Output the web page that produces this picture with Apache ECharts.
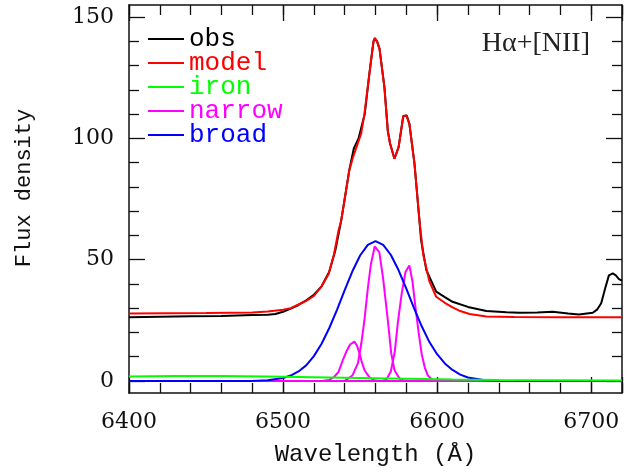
<!DOCTYPE html>
<html>
<head>
<meta charset="utf-8">
<script src="https://cdn.jsdelivr.net/npm/echarts@6/dist/echarts.min.js"></script>
<style>html,body{margin:0;padding:0;background:#fff}#c{width:640px;height:473px}</style>
</head>
<body>
<div id="c"></div>
<script>
// ---- data ----
const xTickStep = 100;
const xMinorStep = 20;
const xLabels = [6400, 6500, 6600, 6700];
const yTicks = [0, 50, 100, 150];
const yMinorTicks = [10, 20, 30, 40, 60, 70, 80, 90, 110, 120, 130, 140];

const obsWave = [6400, 6420, 6440, 6460, 6480, 6490, 6495, 6500, 6505, 6510, 6515, 6520, 6525, 6530, 6534, 6537.7, 6540, 6543, 6546, 6549, 6551, 6553, 6556, 6558.7, 6559.5, 6561, 6562.6, 6565.8, 6568, 6569.5, 6572.3, 6575, 6578, 6580.3, 6582, 6585.3, 6588.5, 6589.6, 6593, 6599.4, 6605, 6610, 6620, 6632, 6645, 6653.5, 6665, 6675, 6685, 6692, 6701, 6704, 6706.5, 6709, 6711.5, 6714, 6716, 6718, 6720];
const obsFlux = [26.2, 26.4, 26.6, 26.8, 27.2, 27.3, 27.6, 28.5, 29.8, 31.3, 33.2, 35.5, 39, 45, 54, 66, 75, 87, 96, 100, 105, 110, 126.5, 140, 141, 140, 137, 121, 103, 97.8, 91.6, 96.4, 109.2, 109.4, 106, 89.6, 66.3, 58, 45.7, 36.8, 34.5, 32.6, 30.5, 28.8, 28.3, 28.1, 28.2, 28.5, 27.8, 27.4, 28.1, 29.5, 32, 38, 43.5, 44.3, 43.5, 42, 41.3];

const modelWave = [6400, 6450, 6480, 6490, 6500, 6505, 6510, 6515, 6520, 6525, 6529.5, 6533, 6536, 6537.7, 6540, 6543, 6545.3, 6548, 6550.7, 6552.8, 6556, 6558.7, 6559.5, 6561, 6562.6, 6565.8, 6568, 6569.5, 6572.3, 6575, 6578, 6580, 6582, 6585.3, 6588.5, 6591, 6595, 6599.4, 6605, 6610, 6615, 6621, 6632, 6650, 6680, 6720];
const modelFlux = [27.8, 28, 28.2, 28.6, 29.3, 30, 31.5, 33, 35, 39, 44, 52, 62, 66, 75, 86.8, 92, 97, 102, 110, 126.5, 140, 141.5, 140, 136.9, 121, 103, 97.8, 91.6, 96.4, 109, 109.5, 106, 89.6, 66.3, 52, 41, 34.7, 32.2, 30.3, 28.8, 27.6, 26.5, 26.3, 26.2, 26.2];

const ironWave = [6400, 6430, 6460, 6490, 6520, 6550, 6580, 6610, 6640, 6680, 6720];
const ironFlux = [1.8, 2.0, 2.0, 1.8, 1.5, 1.2, 0.9, 0.6, 0.4, 0.25, 0.15];

const narrowAWave = [6400, 6525, 6530, 6533, 6536, 6538.8, 6541, 6543.5, 6546.3, 6548, 6549.6, 6551, 6552.8, 6556, 6559, 6562, 6720];
const narrowAFlux = [0, 0, 0.4, 1.5, 3.7, 8.6, 12, 15, 16.2, 14.5, 11.4, 8, 4.5, 1.5, 0.3, 0, 0];

const narrowBWave = [6400, 6540, 6545, 6548.6, 6550.8, 6552.8, 6555, 6557, 6559.5, 6562.5, 6565, 6568, 6570.2, 6572.3, 6575.5, 6578, 6582, 6720];
const narrowBFlux = [0, 0, 2.2, 7.3, 15.5, 25, 38, 48, 55.5, 53, 42, 25, 11.4, 4.5, 1, 0.2, 0, 0];

const narrowCWave = [6400, 6564, 6567, 6570, 6572.5, 6574.5, 6577, 6579.5, 6582, 6584, 6586, 6588, 6590, 6592, 6594, 6597, 6600, 6720];
const narrowCFlux = [0, 0, 0.5, 4, 12, 24, 36, 45, 47.6, 41, 30, 20, 11, 5.5, 2.2, 0.4, 0, 0];

const broadWave = [6400, 6480, 6490, 6500, 6505, 6510, 6515, 6520, 6525, 6530, 6535, 6540, 6545, 6550, 6555, 6560, 6565, 6570, 6575, 6580, 6585, 6590, 6595, 6600, 6605, 6610, 6615, 6620, 6630, 6640, 6650, 6720];
const broadFlux = [0, 0, 0.3, 1.2, 2.2, 3.9, 6.4, 10.2, 15.3, 21.8, 29.3, 37.4, 45.2, 51.7, 56.1, 57.6, 56.1, 51.9, 45.6, 38, 30, 22.5, 16, 11, 7.2, 4.5, 2.6, 1.4, 0.4, 0.1, 0, 0];

const seriesNames = ['obs', 'model', 'iron', 'narrow', 'broad'];
const seriesColors = ['#000000', '#ff0000', '#00ff00', '#ff00ff', '#0000ff'];

function pairs(xs, ys) { return xs.map((x, i) => [x, ys[i]]); }

const chart = echarts.init(document.getElementById('c'), null, { renderer: 'canvas' });

const W = 640, H = 473;
const box = { left: 129, right: 18, top: 5, bottom: 80 };
const majorLen = 16, minorLen = 10;

function tickFont() { return { fontFamily: 'DejaVu Serif', fontSize: 22, color: '#111' }; }
function axisLineDef(show) { return { show: show, onZero: false, lineStyle: { color: '#111', width: 1.5 } }; }

// main grid (0) + four thin strips along the top/bottom frame whose split lines act as inward x ticks
const grids = [
  Object.assign({}, box),
  { left: box.left, right: box.right, top: H - box.bottom - majorLen, bottom: box.bottom },
  { left: box.left, right: box.right, top: H - box.bottom - minorLen, bottom: box.bottom },
  { left: box.left, right: box.right, top: box.top, bottom: H - box.top - majorLen },
  { left: box.left, right: box.right, top: box.top, bottom: H - box.top - minorLen }
];

const xAxes = [
  {
    type: 'value', gridIndex: 0, position: 'bottom', min: 6400, max: 6720, interval: xTickStep,
    axisLine: axisLineDef(true), axisTick: { show: false },
    axisLabel: Object.assign({ show: true, margin: 18,
      formatter: function (v) { return xLabels.indexOf(v) >= 0 ? String(v) : ''; } }, tickFont()),
    splitLine: { show: false },
    name: 'Wavelength (Å)', nameLocation: 'middle', nameGap: 50,
    nameTextStyle: { fontFamily: 'Liberation Mono', fontSize: 24, color: '#111' }
  },
  {
    type: 'value', gridIndex: 0, position: 'top', min: 6400, max: 6720, interval: xTickStep,
    axisLine: axisLineDef(true), axisTick: { show: false }, axisLabel: { show: false }, splitLine: { show: false }
  }
];
[[1, xTickStep], [2, xMinorStep], [3, xTickStep], [4, xMinorStep]].forEach(function (g) {
  xAxes.push({
    type: 'value', gridIndex: g[0], min: 6400, max: 6720, interval: g[1],
    axisLine: { show: false, onZero: false }, axisTick: { show: false }, axisLabel: { show: false },
    splitLine: { show: true, lineStyle: { color: '#111', width: 1.3 } }
  });
});

function yAxisDef(pos, vals, len, labels, line) {
  return {
    type: 'value', gridIndex: 0, position: pos, min: -5, max: 155,
    axisLine: axisLineDef(line),
    axisTick: { show: true, inside: true, length: len, customValues: vals, lineStyle: { color: '#111', width: 1.3 } },
    axisLabel: labels ? Object.assign({ show: true, customValues: yTicks, margin: 15,
      formatter: function (v) { return String(v); } }, tickFont()) : { show: false },
    splitLine: { show: false }
  };
}
const yAxes = [
  yAxisDef('left', yTicks, majorLen, true, true),
  yAxisDef('right', yTicks, majorLen, false, true),
  yAxisDef('left', yMinorTicks, minorLen, false, false),
  yAxisDef('right', yMinorTicks, minorLen, false, false)
];
yAxes[0].name = 'Flux density';
yAxes[0].nameLocation = 'middle';
yAxes[0].nameGap = 94;
yAxes[0].nameTextStyle = { fontFamily: 'Liberation Mono', fontSize: 22, color: '#111', padding: [0, 0, 0, 22] };
[1, 2, 3, 4].forEach(function (g) {
  yAxes.push({ type: 'value', gridIndex: g, min: 0, max: 1, show: false, splitLine: { show: false } });
});

function lineSeries(name, color, data, z) {
  return {
    name: name, type: 'line', data: data, xAxisIndex: 0, yAxisIndex: 0,
    symbol: 'none', showSymbol: false, smooth: false, z: z,
    lineStyle: { color: color, width: 2 }, itemStyle: { color: color }
  };
}

const option = {
  animation: false,
  backgroundColor: '#ffffff',
  title: {
    text: 'Hα+[NII]', right: 45, top: 25,
    textStyle: { fontFamily: 'Liberation Serif', fontSize: 28, fontWeight: 'normal', color: '#222' }
  },
  legend: {
    orient: 'vertical', left: 148, top: 26, padding: 0,
    icon: 'path://M0 0H40V2H0Z',
    itemWidth: 36, itemHeight: 2, itemGap: -2,
    textStyle: { fontFamily: 'Liberation Mono', fontSize: 26, lineHeight: 24 },
    data: seriesNames.map((n, i) => ({ name: n, textStyle: { color: seriesColors[i] } })),
    selectedMode: false
  },
  grid: grids,
  xAxis: xAxes,
  yAxis: yAxes,
  series: [
    lineSeries('narrow', seriesColors[3], pairs(narrowAWave, narrowAFlux), 2),
    lineSeries('narrow', seriesColors[3], pairs(narrowBWave, narrowBFlux), 2),
    lineSeries('narrow', seriesColors[3], pairs(narrowCWave, narrowCFlux), 2),
    lineSeries('broad', seriesColors[4], pairs(broadWave, broadFlux), 3),
    lineSeries('iron', seriesColors[2], pairs(ironWave, ironFlux), 4),
    lineSeries('obs', seriesColors[0], pairs(obsWave, obsFlux), 5),
    lineSeries('model', seriesColors[1], pairs(modelWave, modelFlux), 6)
  ]
};
chart.setOption(option);
</script>
</body>
</html>
